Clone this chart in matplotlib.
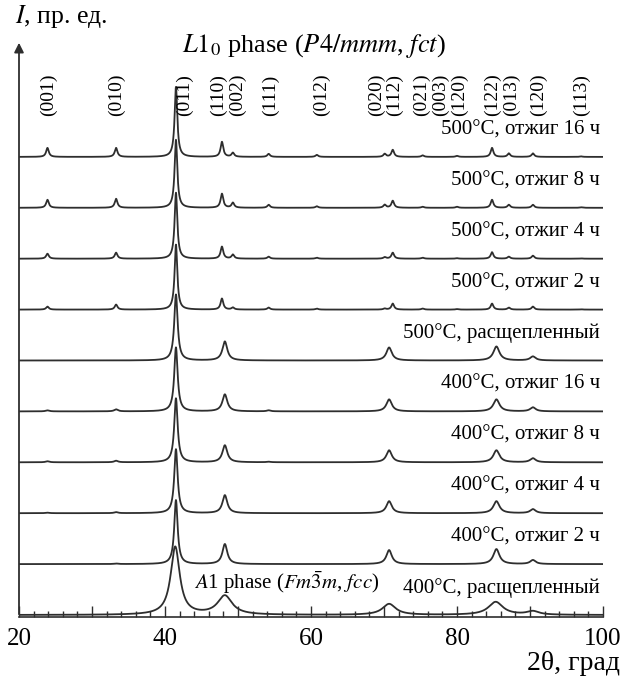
"""
Stacked XRD patterns: L1_0 ordering after annealing at 400 and 500 C.
"""

import numpy as np
import matplotlib
matplotlib.use("Agg")
import matplotlib.pyplot as plt
from matplotlib.ticker import MultipleLocator, FuncFormatter

plt.rcParams["font.family"] = ["Liberation Serif", "DejaVu Serif"]
plt.rcParams["mathtext.fontset"] = "stix"

# sample names, top to bottom
SAMPLES = [
    "500°C, отжиг 16 ч",
    "500°C, отжиг 8 ч",
    "500°C, отжиг 4 ч",
    "500°C, отжиг 2 ч",
    "500°C, расщепленный",
    "400°C, отжиг 16 ч",
    "400°C, отжиг 8 ч",
    "400°C, отжиг 4 ч",
    "400°C, отжиг 2 ч",
    "400°C, расщепленный",
]

# fct L1_0 reflections, 500 C annealed samples
POS_L10 = [23.9, 33.3, 41.5, 47.8, 49.3, 54.2, 60.8, 70.1, 71.2, 75.3, 80.0, 84.8, 87.1, 90.4, 97.0]
HEIGHTS_L10 = [
    [9, 9, 70, 15, 4, 3, 2, 3, 7, 1.5, 1, 9, 3.5, 3.5, 0.5],   # 16 h
    [8, 9, 68, 14, 5, 3, 1.5, 3, 7, 1, 1, 8, 3, 3, 0.5],       # 8 h
    [5, 6, 66, 12, 4, 2, 1, 1.5, 6, 1, 0.5, 6.5, 2, 3, 0.3],   # 4 h
    [3, 5, 65, 11, 2, 2, 1, 1, 6, 1, 0.5, 6, 2, 3, 0.3],       # 2 h
]
WIDTH_L10 = 0.22

# broader patterns: 500 C split + 400 C series
POS_BROAD = [23.9, 33.3, 41.5, 48.2, 54.2, 70.7, 85.4, 90.4]
HEIGHTS_BROAD = [
    [0, 0, 66, 19, 0, 13, 14, 4],      # 500 split
    [1, 2, 64, 17, 1, 12, 12, 4],      # 400, 16 h
    [1, 1.5, 64, 17, 0.5, 12, 12, 4],  # 400, 8 h
    [0.5, 1, 64, 18, 0, 12, 12, 4],    # 400, 4 h
    [0, 0.5, 64, 20, 0, 14, 15, 4],    # 400, 2 h
]
WIDTH_BROAD = [0.3, 0.3, 0.28, 0.4, 0.3, 0.45, 0.5, 0.45]

# disordered A1 phase (400 C split)
POS_A1 = [41.4, 48.2, 70.7, 85.3, 90.4]
HEIGHTS_A1 = [68, 19, 11, 13, 3.5]
WIDTH_A1 = [0.75, 1.2, 1.1, 1.2, 1.0]

# hkl labels of the L1_0 phase
HKL = ["(001)", "(010)", "(011)", "(110)", "(002)", "(111)", "(012)", "(020)",
       "(112)", "(021)", "(003)", "(120)", "(122)", "(013)", "(120)", "(113)"]
HKL_POS = [24.0, 33.3, 42.7, 47.3, 49.9, 54.4, 61.4, 68.9,
           71.5, 75.1, 77.8, 80.4, 84.8, 87.5, 91.2, 97.1]

STEP = 50.9
COLOR = "#2e2e2e"


def pattern(x, pos, heights, widths):
    y = np.zeros_like(x)
    widths = np.broadcast_to(widths, len(pos))
    for p, h, w in zip(pos, heights, widths):
        y += h / (1 + ((x - p) / w) ** 2)
    return y


x = np.linspace(20, 100, 6000)
curves = [pattern(x, POS_L10, h, WIDTH_L10) for h in HEIGHTS_L10]
curves += [pattern(x, POS_BROAD, h, WIDTH_BROAD) for h in HEIGHTS_BROAD]
curves.append(pattern(x, POS_A1, HEIGHTS_A1, WIDTH_A1))

fig = plt.figure(figsize=(6.24, 6.78), dpi=100)
ax = fig.add_axes([19 / 624, 61 / 678, 584 / 624, 577 / 678])

n = len(SAMPLES)
for i, (name, y) in enumerate(zip(SAMPLES, curves)):
    base = (n - 1 - i) * STEP + 2
    ax.plot(x, y + base, color=COLOR, lw=1.3)
    ax.text(99.6, base + 27, name, ha="right", va="center", fontsize=15)

for lab, p in zip(HKL, HKL_POS):
    ax.text(p, 522, lab, rotation=90, ha="center", va="center", fontsize=14)

ax.text(60.4, 571, "$L1_0$ phase ($P4/mmm$, $fct$)", ha="center", va="center",
        fontsize=19)
ax.text(44.0, 34, "$A$1 phase ($Fm\\bar{3}m$, $fcc$)", ha="left", va="center",
        fontsize=15)

ax.set_xlim(20, 100)
ax.set_ylim(0, 577)
ax.spines[["top", "right", "left"]].set_visible(False)
ax.spines["bottom"].set_color(COLOR)
ax.spines["bottom"].set_linewidth(1.2)
ax.set_yticks([])
ax.xaxis.set_major_locator(MultipleLocator(10))
ax.xaxis.set_minor_locator(MultipleLocator(2))
ax.xaxis.set_major_formatter(FuncFormatter(lambda v, _: f"{v:.0f}" if v % 20 == 0 else ""))
ax.tick_params(axis="x", which="major", direction="in", length=8, width=1, color=COLOR,
               labelsize=18, pad=8)
ax.tick_params(axis="x", which="minor", direction="in", length=4, width=1, color=COLOR)

# y axis drawn as an arrow
ax.annotate("", xy=(0, 1.0), xytext=(0, 0), xycoords="axes fraction",
            arrowprops=dict(arrowstyle="-|>", color=COLOR, lw=1.3, mutation_scale=14),
            annotation_clip=False)

fig.text(15 / 624, 1 - 17 / 678, "$I$, пр. ед.", ha="left", va="center", fontsize=18.5)
fig.text(620 / 624, 1 - 663 / 678, "2θ, град", ha="right", va="center", fontsize=20)

fig.savefig("out.png", dpi=100)
